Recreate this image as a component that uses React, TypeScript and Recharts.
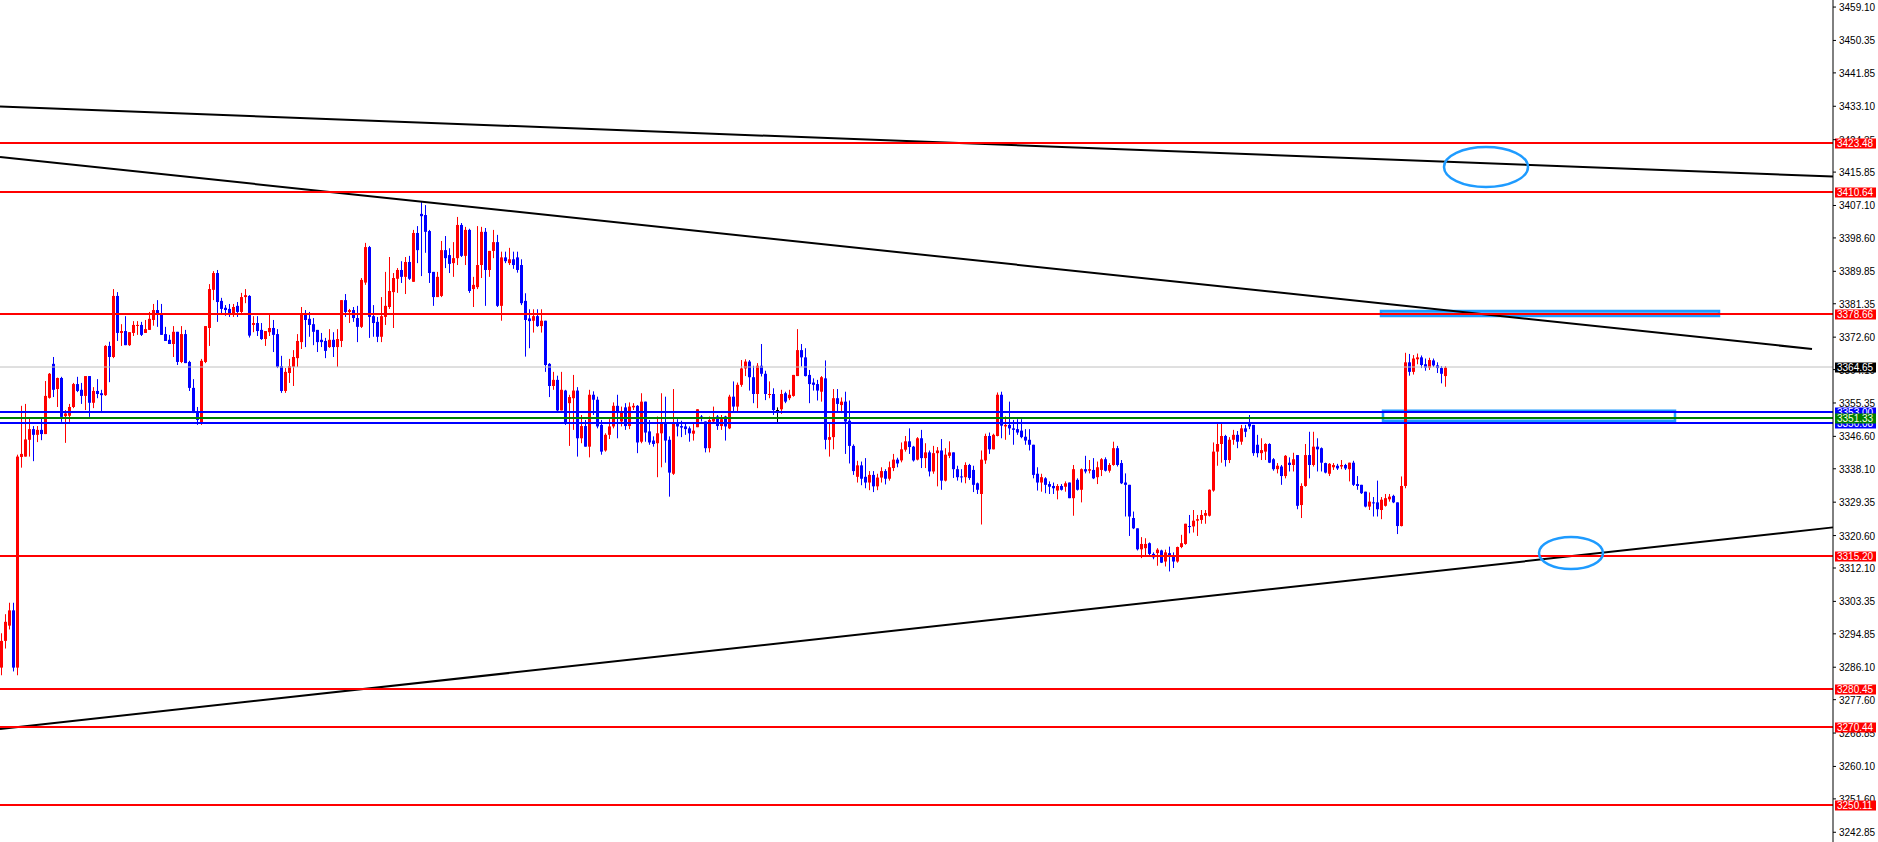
import React from "react"
import { ComposedChart, Bar, XAxis, YAxis, ReferenceLine, ReferenceArea, ReferenceDot } from "recharts"

type Ohlc = [number, number, number, number] // open, high, low, close

// bars, left to right
const sessionA: Ohlc[] = [
  [3286, 3295, 3284, 3293], [3293, 3300, 3291, 3298], [3297, 3303, 3296, 3301], [3301, 3303, 3285, 3286],
  [3286, 3341.8, 3284, 3341.3], [3341.2, 3354.6, 3338.4, 3342.0], [3341.3, 3355.1, 3341.3, 3345.8], [3345.7, 3351.2, 3341.3, 3348.5],
  [3348.5, 3349.3, 3340.1, 3347.0], [3347.0, 3349.3, 3345.1, 3348.3], [3348.3, 3351.4, 3345.6, 3347.2], [3347.2, 3361.1, 3347.2, 3357.2],
  [3356.7, 3363.2, 3356.5, 3363.0], [3365.6, 3367.4, 3356.9, 3358.8], [3359.0, 3362.0, 3354.3, 3361.9], [3361.9, 3362.2, 3350.4, 3351.7],
  [3351.9, 3353.5, 3344.9, 3352.6], [3352.0, 3355.1, 3350.4, 3354.3], [3354.3, 3360.6, 3354.0, 3360.3], [3360.3, 3362.2, 3358.2, 3358.5],
  [3358.8, 3360.6, 3355.1, 3357.2], [3357.2, 3362.4, 3353.5, 3362.4], [3362.4, 3362.4, 3351.7, 3355.4], [3355.4, 3359.5, 3354.0, 3358.5],
  [3358.5, 3361.6, 3356.6, 3357.7], [3357.9, 3358.8, 3353.0, 3357.4], [3357.4, 3370.5, 3357.2, 3370.3], [3370.3, 3371.4, 3360.8, 3367.4],
  [3367.4, 3385.2, 3367.1, 3383.4], [3383.4, 3384.4, 3371.6, 3373.7], [3373.7, 3376.0, 3370.3, 3374.2], [3374.2, 3378.1, 3370.5, 3370.5],
  [3370.5, 3373.9, 3370.3, 3373.9], [3373.7, 3376.8, 3372.9, 3375.8], [3375.6, 3376.8, 3373.2, 3375.8], [3375.8, 3376.6, 3372.9, 3373.2],
  [3373.7, 3377.1, 3373.7, 3374.7], [3374.5, 3379.2, 3374.5, 3377.4], [3377.1, 3381.3, 3375.6, 3379.7], [3379.7, 3382.3, 3375.3, 3378.7],
  [3378.7, 3381.3, 3373.2, 3373.2], [3373.4, 3375.3, 3371.6, 3371.6], [3371.9, 3373.2, 3370.8, 3370.8], [3370.8, 3375.5, 3367.4, 3374.0],
  [3374.0, 3374.0, 3365.3, 3366.1], [3366.1, 3375.5, 3365.8, 3373.4], [3373.4, 3374.5, 3365.8, 3365.8], [3366.1, 3366.4, 3358.5, 3359.3],
  [3359.3, 3361.6, 3352.7, 3353.0], [3353.0, 3354.3, 3349.6, 3350.9], [3350.1, 3366.9, 3349.6, 3366.4], [3366.1, 3375.5, 3365.8, 3375.5],
  [3375.0, 3386.5, 3370.3, 3385.2], [3385.0, 3389.9, 3382.3, 3389.4], [3389.4, 3390.2, 3376.6, 3381.8], [3382.1, 3382.9, 3378.7, 3380.0],
  [3380.3, 3381.0, 3378.2, 3379.7], [3380.0, 3381.3, 3377.9, 3378.9], [3378.9, 3381.3, 3377.9, 3380.5], [3380.8, 3381.8, 3377.9, 3379.2],
  [3379.2, 3384.2, 3378.4, 3383.1], [3383.1, 3385.2, 3381.5, 3383.6],
]

const sessionB: Ohlc[] = [
  [3383.4, 3383.6, 3372.5, 3373.0], [3375.8, 3378.1, 3373.9, 3376.3], [3376.3, 3378.1, 3372.9, 3374.2], [3374.5, 3376.3, 3371.9, 3372.1],
  [3372.1, 3374.2, 3370.3, 3374.2], [3373.9, 3378.7, 3372.9, 3375.0], [3375.0, 3377.1, 3368.7, 3373.2], [3373.4, 3374.7, 3364.5, 3364.8],
  [3365.0, 3367.7, 3358.0, 3358.5], [3358.5, 3364.5, 3358.0, 3363.5], [3363.2, 3366.9, 3360.6, 3365.0], [3364.8, 3369.2, 3359.8, 3367.4],
  [3367.1, 3373.4, 3364.8, 3371.6], [3371.3, 3380.5, 3369.5, 3378.9], [3378.9, 3379.7, 3370.0, 3377.1], [3377.4, 3379.2, 3372.7, 3375.8],
  [3376.0, 3377.6, 3370.5, 3374.0], [3374.5, 3374.5, 3368.7, 3371.3], [3371.9, 3373.7, 3370.0, 3371.3], [3371.6, 3372.4, 3367.1, 3369.0],
  [3370.0, 3374.7, 3369.8, 3371.9], [3371.9, 3373.9, 3367.4, 3370.0], [3370.0, 3374.7, 3364.8, 3372.1], [3371.6, 3382.3, 3370.0, 3382.3],
  [3382.3, 3383.9, 3377.9, 3379.2], [3379.2, 3380.0, 3376.3, 3379.7], [3379.7, 3380.5, 3376.6, 3377.6], [3377.6, 3380.8, 3371.3, 3375.3],
  [3375.3, 3388.1, 3375.0, 3387.6], [3386.9, 3397.3, 3386.3, 3396.2], [3396.2, 3396.5, 3372.4, 3377.9], [3378.1, 3381.0, 3372.7, 3376.3],
  [3376.6, 3377.9, 3371.3, 3372.7], [3372.7, 3383.1, 3371.3, 3378.1], [3377.9, 3389.7, 3375.8, 3380.8], [3380.5, 3393.6, 3380.0, 3384.7],
  [3384.4, 3389.4, 3375.0, 3388.1], [3387.9, 3390.7, 3384.2, 3390.2], [3390.2, 3392.5, 3386.8, 3388.4], [3388.4, 3393.6, 3383.9, 3392.3],
  [3392.3, 3393.9, 3387.6, 3387.9], [3387.1, 3400.7, 3387.1, 3399.9], [3399.9, 3401.7, 3392.0, 3395.4], [3404.9, 3408.0, 3388.6, 3404.3],
  [3404.6, 3407.2, 3394.7, 3400.2], [3400.4, 3400.7, 3386.8, 3389.4], [3389.7, 3389.7, 3380.8, 3383.1], [3383.1, 3389.7, 3383.1, 3388.4],
  [3383.4, 3397.8, 3383.1, 3395.4], [3395.4, 3399.1, 3390.7, 3393.3], [3394.1, 3395.9, 3389.4, 3391.8], [3392.0, 3397.5, 3388.4, 3393.3],
  [3393.3, 3404.1, 3391.5, 3402.0], [3402.0, 3402.5, 3393.6, 3393.9], [3393.9, 3401.5, 3391.5, 3400.7], [3400.7, 3401.0, 3384.2, 3384.7],
  [3385.2, 3388.4, 3380.5, 3386.3], [3385.7, 3401.7, 3385.2, 3391.5], [3391.5, 3401.5, 3388.1, 3400.2], [3400.2, 3401.2, 3380.8, 3390.2],
  [3390.2, 3395.2, 3388.4, 3395.2], [3395.2, 3400.7, 3393.3, 3397.5], [3397.5, 3399.4, 3380.5, 3380.8],
]

const sessionC: Ohlc[] = [
  [3380.8, 3395.0, 3376.9, 3393.5], [3393.5, 3395.0, 3392.0, 3392.5], [3392.0, 3396.0, 3391.5, 3393.0], [3393.0, 3395.0, 3390.5, 3391.5],
  [3393.5, 3395.0, 3389.5, 3390.2], [3391.5, 3393.0, 3381.0, 3381.5], [3382.1, 3384.1, 3367.5, 3377.1], [3377.5, 3379.9, 3369.7, 3376.8],
  [3376.9, 3379.9, 3373.8, 3378.1], [3378.1, 3379.9, 3375.3, 3375.5], [3375.5, 3379.9, 3373.8, 3376.9], [3376.9, 3376.9, 3363.5, 3365.3],
  [3365.6, 3365.8, 3356.9, 3359.8], [3359.8, 3363.5, 3358.8, 3361.4], [3361.4, 3362.5, 3353.1, 3353.4], [3353.4, 3363.5, 3353.4, 3358.8],
  [3358.6, 3358.8, 3349.6, 3350.1], [3355.3, 3357.5, 3344.1, 3356.9], [3356.6, 3362.7, 3348.3, 3358.6], [3358.6, 3359.5, 3341.3, 3346.1],
  [3346.1, 3352.2, 3344.8, 3349.3], [3349.3, 3350.9, 3343.9, 3343.9], [3343.9, 3358.8, 3341.1, 3357.5], [3357.5, 3358.4, 3352.2, 3356.2],
  [3356.2, 3357.0, 3348.7, 3349.2], [3349.6, 3350.9, 3341.8, 3342.6], [3342.9, 3347.4, 3342.6, 3347.0], [3347.0, 3351.1, 3345.9, 3349.2],
  [3349.2, 3355.5, 3348.7, 3354.6], [3354.6, 3357.5, 3346.1, 3353.1], [3350.5, 3354.4, 3349.2, 3353.1], [3354.2, 3355.3, 3348.3, 3349.3],
  [3349.3, 3355.5, 3348.5, 3354.4], [3354.2, 3355.3, 3353.5, 3354.6], [3354.6, 3354.8, 3342.2, 3345.0], [3345.2, 3357.9, 3344.8, 3355.7],
  [3355.7, 3355.7, 3345.2, 3347.6], [3347.9, 3350.9, 3344.4, 3345.0], [3345.5, 3346.6, 3343.9, 3344.6], [3344.8, 3351.8, 3335.9, 3347.4],
  [3347.4, 3357.9, 3338.5, 3350.1], [3350.1, 3357.0, 3339.7, 3345.5], [3345.7, 3346.6, 3330.8, 3337.1], [3336.8, 3359.0, 3336.5, 3349.9],
  [3350.2, 3351.1, 3346.6, 3349.2], [3349.3, 3350.7, 3346.4, 3348.9], [3349.2, 3350.2, 3347.0, 3348.5], [3348.7, 3349.2, 3345.2, 3347.4],
  [3347.3, 3350.0, 3345.5, 3348.1], [3349.0, 3353.7, 3349.0, 3353.7], [3351.8, 3352.2, 3350.5, 3351.4], [3350.5, 3350.5, 3342.4, 3343.5],
  [3343.5, 3351.8, 3342.4, 3350.9], [3350.5, 3354.4, 3350.0, 3351.4], [3351.8, 3352.2, 3348.3, 3349.3], [3349.3, 3352.2, 3348.3, 3351.1],
  [3351.8, 3352.0, 3345.5, 3349.2],
]

const sessionD: Ohlc[] = [
  [3348.7, 3357.5, 3348.5, 3357.0], [3357.0, 3361.0, 3353.1, 3354.4], [3354.4, 3360.7, 3353.1, 3360.1], [3360.1, 3366.6, 3359.6, 3364.4],
  [3364.4, 3366.8, 3362.4, 3366.2], [3366.2, 3366.6, 3358.6, 3362.1], [3362.1, 3365.1, 3355.3, 3357.7], [3357.7, 3365.8, 3354.0, 3365.1],
  [3365.1, 3370.8, 3362.3, 3363.0], [3363.0, 3363.8, 3356.1, 3357.7], [3357.5, 3361.0, 3356.6, 3357.7], [3357.7, 3359.2, 3352.2, 3353.5],
  [3353.5, 3354.2, 3349.9, 3353.5], [3353.7, 3358.8, 3352.5, 3357.7], [3357.9, 3358.3, 3355.3, 3355.7], [3356.6, 3358.8, 3356.1, 3357.5],
  [3357.2, 3362.7, 3357.0, 3362.7], [3362.4, 3374.7, 3362.4, 3369.2], [3369.2, 3370.8, 3364.9, 3367.3], [3367.3, 3369.7, 3362.3, 3362.4],
  [3362.7, 3364.0, 3355.3, 3360.3], [3360.7, 3361.8, 3358.6, 3360.1], [3360.3, 3361.4, 3356.0, 3358.6], [3358.3, 3362.4, 3355.7, 3362.1],
  [3361.8, 3366.5, 3343.2, 3345.7], [3345.7, 3350.0, 3341.3, 3346.4], [3346.4, 3359.0, 3343.2, 3356.6], [3356.6, 3359.0, 3353.1, 3355.1],
  [3354.8, 3356.8, 3352.7, 3355.7], [3355.7, 3358.3, 3342.0, 3350.5], [3350.7, 3356.0, 3339.5, 3344.1], [3344.1, 3344.5, 3336.5, 3337.5],
  [3336.0, 3340.2, 3334.5, 3339.0], [3339.0, 3340.0, 3333.8, 3335.5], [3336.0, 3340.9, 3333.0, 3334.5], [3334.5, 3337.5, 3332.5, 3336.5],
  [3336.5, 3337.5, 3332.0, 3333.5], [3333.5, 3336.8, 3332.5, 3335.8], [3335.8, 3338.5, 3334.5, 3337.5], [3337.5, 3338.0, 3334.0, 3335.5],
  [3335.5, 3340.0, 3335.0, 3338.5], [3338.3, 3342.0, 3337.5, 3340.5], [3340.5, 3341.0, 3338.5, 3339.5], [3340.3, 3345.0, 3339.8, 3343.2],
  [3343.1, 3346.7, 3342.6, 3345.3], [3345.3, 3348.7, 3342.0, 3343.8], [3343.9, 3344.1, 3340.0, 3340.3], [3340.5, 3346.4, 3340.3, 3346.1],
  [3346.1, 3348.3, 3338.3, 3340.9], [3340.9, 3344.8, 3338.3, 3342.4], [3342.4, 3342.9, 3336.1, 3337.4], [3337.4, 3344.1, 3336.8, 3342.2],
  [3342.2, 3343.8, 3333.5, 3342.9], [3342.9, 3345.9, 3332.6, 3335.0], [3335.0, 3343.5, 3334.8, 3341.8], [3341.5, 3345.3, 3340.9, 3342.4],
  [3342.4, 3342.4, 3335.7, 3338.0], [3338.0, 3338.9, 3335.0, 3335.9], [3336.1, 3338.0, 3334.5, 3335.9], [3335.9, 3339.8, 3334.3, 3339.1],
  [3339.1, 3339.4, 3335.2, 3335.7], [3337.8, 3338.9, 3332.0, 3333.9], [3334.3, 3334.5, 3331.5, 3332.6], [3331.5, 3342.9, 3323.5, 3340.5],
  [3340.3, 3347.3, 3339.4, 3346.7], [3346.7, 3347.6, 3342.0, 3343.2], [3343.2, 3347.3, 3343.2, 3347.0], [3346.7, 3358.1, 3346.6, 3357.5],
]

const sessionE: Ohlc[] = [
  [3357.5, 3358.3, 3346.1, 3349.4], [3349.2, 3351.8, 3345.7, 3349.6], [3349.6, 3355.7, 3347.0, 3348.7], [3348.7, 3350.9, 3344.4, 3348.3],
  [3348.5, 3351.1, 3347.0, 3347.6], [3348.1, 3351.1, 3346.1, 3346.4], [3346.5, 3348.5, 3344.4, 3345.5], [3345.7, 3348.5, 3342.9, 3344.4],
  [3344.4, 3344.4, 3335.6, 3336.5], [3336.8, 3338.5, 3332.4, 3334.5], [3334.5, 3336.8, 3332.1, 3335.9], [3335.6, 3335.9, 3331.7, 3333.9],
  [3334.1, 3334.8, 3331.5, 3333.4], [3333.6, 3334.5, 3331.5, 3333.0], [3332.4, 3334.1, 3330.1, 3333.6], [3333.6, 3334.1, 3332.4, 3332.6],
  [3333.4, 3334.8, 3332.1, 3334.3], [3334.5, 3334.5, 3330.4, 3330.4], [3330.4, 3339.1, 3325.8, 3338.0], [3335.2, 3335.6, 3332.4, 3332.6],
  [3332.6, 3338.2, 3329.3, 3338.0], [3338.0, 3341.5, 3336.9, 3337.4], [3337.6, 3340.4, 3336.9, 3338.0], [3337.8, 3340.9, 3335.4, 3335.6],
  [3335.9, 3340.0, 3334.1, 3338.5], [3337.8, 3340.9, 3336.2, 3340.6], [3340.6, 3341.1, 3337.4, 3337.6], [3337.6, 3339.6, 3337.1, 3339.1],
  [3339.1, 3345.2, 3338.9, 3343.5], [3343.5, 3344.1, 3338.7, 3339.1], [3339.6, 3340.4, 3334.1, 3334.3], [3334.5, 3336.9, 3325.6, 3333.9],
  [3333.9, 3333.9, 3320.5, 3325.6], [3325.2, 3326.9, 3322.3, 3322.5], [3322.5, 3322.5, 3316.7, 3317.0], [3317.0, 3320.2, 3314.7, 3318.4],
  [3317.3, 3319.9, 3315.5, 3318.4], [3318.6, 3318.8, 3315.5, 3315.8], [3315.8, 3316.2, 3314.4, 3314.9], [3316.0, 3317.3, 3312.7, 3316.9],
  [3316.7, 3316.9, 3313.4, 3313.5], [3313.8, 3316.9, 3312.5, 3316.2], [3316.0, 3317.7, 3311.2, 3315.5], [3315.5, 3316.2, 3312.1, 3313.8],
  [3313.8, 3317.7, 3313.5, 3317.6], [3317.6, 3320.8, 3317.3, 3318.6], [3318.4, 3323.7, 3318.2, 3323.7], [3323.1, 3326.0, 3321.2, 3323.0],
  [3323.0, 3327.3, 3321.4, 3324.5], [3324.5, 3326.0, 3320.5, 3324.9], [3324.7, 3327.3, 3323.7, 3326.0], [3325.8, 3327.3, 3323.7, 3326.5],
  [3325.8, 3332.7, 3325.6, 3332.6], [3332.4, 3345.0, 3332.1, 3342.6], [3342.6, 3349.9, 3338.9, 3344.6], [3344.6, 3350.0, 3339.7, 3346.7],
  [3346.7, 3347.0, 3338.7, 3340.4], [3340.4, 3346.4, 3339.6, 3345.7], [3345.7, 3348.3, 3344.4, 3347.0], [3347.0, 3348.0, 3343.5, 3345.2],
  [3345.2, 3349.6, 3344.4, 3348.7], [3348.7, 3349.6, 3346.4, 3347.8], [3350.0, 3352.2, 3348.5, 3349.2],
]

const sessionF: Ohlc[] = [
  [3349.6, 3349.6, 3341.5, 3342.2], [3344.4, 3347.0, 3341.1, 3342.2], [3342.2, 3346.1, 3340.4, 3343.0], [3342.6, 3344.8, 3340.4, 3344.6],
  [3344.6, 3344.8, 3339.6, 3339.7], [3340.6, 3340.9, 3337.6, 3338.0], [3338.0, 3339.6, 3336.9, 3338.9], [3338.7, 3339.1, 3333.9, 3336.2],
  [3336.2, 3341.7, 3335.6, 3341.5], [3339.7, 3341.1, 3337.4, 3339.1], [3339.1, 3342.3, 3337.4, 3340.6], [3341.7, 3341.7, 3327.5, 3328.4],
  [3328.6, 3334.3, 3325.2, 3333.6], [3333.6, 3344.6, 3333.4, 3341.7], [3341.7, 3347.8, 3335.6, 3339.1], [3339.1, 3347.8, 3338.7, 3343.9],
  [3343.9, 3346.1, 3337.4, 3343.2], [3343.5, 3343.7, 3337.4, 3339.7], [3339.6, 3339.7, 3336.9, 3337.1], [3336.8, 3339.6, 3336.2, 3339.4],
  [3338.5, 3339.6, 3337.8, 3339.1], [3338.9, 3339.4, 3337.8, 3338.2], [3338.7, 3340.4, 3338.0, 3339.1], [3339.1, 3339.4, 3337.8, 3338.2],
  [3338.0, 3339.7, 3334.8, 3339.7], [3339.7, 3340.2, 3333.6, 3333.9], [3334.1, 3336.2, 3332.6, 3333.6], [3333.9, 3333.9, 3331.5, 3331.7],
  [3332.1, 3332.1, 3328.0, 3328.2], [3328.2, 3331.9, 3327.3, 3329.5], [3329.3, 3330.7, 3325.6, 3329.1], [3329.3, 3335.0, 3325.6, 3327.5],
  [3327.3, 3330.7, 3324.9, 3330.0], [3328.4, 3331.5, 3328.2, 3330.4], [3330.1, 3331.5, 3329.5, 3330.8], [3331.0, 3331.3, 3329.1, 3329.3],
  [3329.3, 3329.3, 3321.0, 3323.1], [3323.1, 3336.1, 3323.0, 3333.6], [3333.6, 3368.5, 3333.0, 3366.0], [3366.0, 3368.2, 3362.5, 3363.5],
  [3363.5, 3367.9, 3362.8, 3367.0], [3366.8, 3368.3, 3365.5, 3367.3], [3367.3, 3367.8, 3364.5, 3365.3], [3365.5, 3367.0, 3363.8, 3364.6],
  [3364.6, 3367.2, 3364.0, 3366.6], [3366.5, 3367.0, 3364.8, 3365.2], [3365.2, 3366.0, 3363.2, 3364.5], [3364.5, 3365.0, 3360.5, 3363.0],
  [3362.4, 3365.0, 3359.6, 3364.6],
]

const yTicks = [
  3459.1, 3450.35, 3441.85, 3433.1, 3424.35, 3415.85, 3407.1, 3398.6, 3389.85, 3381.35, 3372.6, 3364.1, 3355.35,
  3346.6, 3338.1, 3329.35, 3320.6, 3312.1, 3303.35, 3294.85, 3286.1, 3277.6, 3268.85, 3260.1, 3251.6, 3242.85,
]

const redLevels = [3423.48, 3410.64, 3378.66, 3315.2, 3280.45, 3270.44, 3250.11]
const blueLevels = [3353.0, 3350.08]
const greenLevels = [3351.33]
const bidLevel = 3364.65

// trend lines: [bar index, price] -> [bar index, price]
const trendLines: [number, number, number, number][] = [
  [-0.5, 3433.05, 457.75, 3414.7],
  [-0.5, 3419.81, 452.5, 3369.5],
  [-0.5, 3269.92, 457.75, 3322.75],
]

const zones = [
  { x1: 344.75, x2: 429.25, y1: 3378.15, y2: 3379.45, filled: true },
  { x1: 345.25, x2: 418.25, y1: 3350.71, y2: 3353.33, filled: false },
]

const circles = [
  { x: 371, y: 3417.19, rx: 42, ry: 20 },
  { x: 392.25, y: 3316.04, rx: 32, ry: 16 },
]

const candles = [...sessionA, ...sessionB, ...sessionC, ...sessionD, ...sessionE, ...sessionF]
const data = candles.map(([o, h, l, c], i) => ({ i, o, h, l, c, range: [l, h] }))

const FONT = "Liberation Sans, Arial, sans-serif"
const UP = "#ff0000"
const DOWN = "#0000ff"
const OBJ = "#1e9bff"

function Candle(props: any) {
  const { x, y, width, height, payload } = props
  if (!payload) return null
  const { o, h, l, c } = payload
  const top = Math.min(y, y + height)
  const span = Math.abs(height)
  const toY = (v: number) => (h === l ? top : top + ((h - v) / (h - l)) * span)
  const color = c > o ? UP : c < o ? DOWN : "#000000"
  const wx = Math.floor(x + width / 2)
  const bTop = toY(Math.max(o, c))
  const bBot = toY(Math.min(o, c))
  return (
    <g>
      <rect x={wx} y={top} width={1} height={Math.max(span, 1)} fill={color} />
      <rect x={wx - 1} y={bTop} width={3} height={Math.max(bBot - bTop, 1)} fill={color} />
    </g>
  )
}

// price scale text, drawn as a line-less reference so the level boxes can sit on top of it
const tickShape = (price: number) => (p: any) => {
  const right = Math.max(p.x1, p.x2)
  return (
    <text x={right + 6} y={Math.round(p.y1) + 3.5} fontSize={10} fontFamily={FONT} fill="#000">
      {price.toFixed(2)}
    </text>
  )
}

const levelShape = (price: number, line: string, lineWidth: number, box: string, text: string) => (p: any) => {
  const left = Math.min(p.x1, p.x2)
  const right = Math.max(p.x1, p.x2)
  const yy = Math.round(p.y1)
  return (
    <g>
      <line x1={left} x2={right} y1={yy} y2={yy} stroke={line} strokeWidth={lineWidth} />
      <rect x={right + 2} y={yy - 4.5} width={41} height={10} fill={box} />
      <text x={right + 4} y={yy + 4} fontSize={10} fontFamily={FONT} fill={text}>
        {price.toFixed(2)}
      </text>
    </g>
  )
}

export default function App() {
  return (
    <div style={{ position: "absolute", left: 0, top: 0, width: 1878, height: 842, background: "#fff" }}>
      <ComposedChart width={1878} height={842} data={data} margin={{ top: 0, right: 0, bottom: 0, left: 0 }}>
        <XAxis dataKey="i" type="number" domain={[-0.5, 457.75]} hide allowDataOverflow />
        <YAxis
          orientation="right"
          width={45}
          domain={[3240.3, 3460.95]}
          ticks={yTicks}
          interval={0}
          allowDataOverflow
          tickSize={3}
          tickMargin={3}
          tick={() => <g />}
          axisLine={{ stroke: "#000" }}
          tickLine={{ stroke: "#000" }}
        />
        <Bar dataKey="range" barSize={3} shape={<Candle />} isAnimationActive={false} />

        {yTicks.map((v) => (
          <ReferenceLine key={`k${v}`} y={v} shape={tickShape(v)} />
        ))}

        {trendLines.map(([xa, ya, xb, yb], k) => (
          <ReferenceLine
            key={`t${k}`}
            segment={[{ x: xa, y: ya }, { x: xb, y: yb }]}
            stroke="#000"
            strokeWidth={2}
            ifOverflow="visible"
          />
        ))}

        {redLevels.map((v) => (
          <ReferenceLine key={`r${v}`} y={v} shape={levelShape(v, UP, 2, UP, "#fff")} />
        ))}
        <ReferenceLine y={bidLevel} shape={levelShape(bidLevel, "#c0c0c0", 1, "#000", "#fff")} />
        {blueLevels.map((v) => (
          <ReferenceLine key={`b${v}`} y={v} shape={levelShape(v, DOWN, 2, DOWN, "#fff")} />
        ))}
        {greenLevels.map((v) => (
          <ReferenceLine key={`g${v}`} y={v} shape={levelShape(v, "#008000", 2, "#008000", "#ffffe0")} />
        ))}

        {zones.map((z, k) => (
          <ReferenceArea
            key={`z${k}`}
            x1={z.x1}
            x2={z.x2}
            y1={z.y1}
            y2={z.y2}
            fill={z.filled ? OBJ : "none"}
            fillOpacity={z.filled ? 0.7 : 0}
            stroke={OBJ}
            strokeWidth={2.5}
            strokeOpacity={1}
            ifOverflow="visible"
          />
        ))}

        {circles.map((e, k) => (
          <ReferenceDot
            key={`e${k}`}
            x={e.x}
            y={e.y}
            r={1}
            ifOverflow="visible"
            shape={(p: any) => (
              <ellipse cx={p.cx} cy={p.cy} rx={e.rx} ry={e.ry} fill="none" stroke={OBJ} strokeWidth={2.5} />
            )}
          />
        ))}
      </ComposedChart>
    </div>
  )
}
